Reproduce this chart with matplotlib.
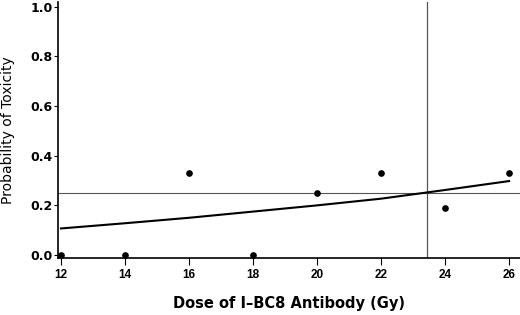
import matplotlib
matplotlib.use("Agg")
import matplotlib.pyplot as plt

# observed toxicity rate per dose level
dose = [12, 14, 16, 18, 20, 22, 24, 26]
tox_rate = [0.0, 0.0, 0.33, 0.0, 0.25, 0.33, 0.19, 0.33]

# fitted dose-toxicity curve
curve_dose = [12, 14, 16, 18, 20, 22, 24, 26]
curve_prob = [0.107, 0.128, 0.150, 0.175, 0.200, 0.227, 0.262, 0.298]

target_tox = 0.25
mtd_dose = 23.42

xticks = [12, 14, 16, 18, 20, 22, 24, 26]
yticks = [0.0, 0.2, 0.4, 0.6, 0.8, 1.0]

plt.rcParams['font.family'] = ['Liberation Sans', 'DejaVu Sans']

fig = plt.figure(figsize=(5.2, 3.15), dpi=100)
ax = fig.add_axes([0.1115, 0.181, 0.8885, 0.813])

ax.axhline(target_tox, color='#555555', lw=0.8, zorder=1)
ax.axvline(mtd_dose, color='#555555', lw=0.9, zorder=1)
ax.plot(curve_dose, curve_prob, color='black', lw=1.5, zorder=2)
ax.plot(dose, tox_rate, 'o', color='black', ms=3.8, zorder=3)

ax.set_xlim(11.906, 26.34)
ax.set_ylim(-0.012, 1.02)
ax.set_xticks(xticks)
ax.set_yticks(yticks)
ax.set_xticklabels([str(x) for x in xticks], fontweight='bold', fontsize=8.5)
ax.set_yticklabels([f"{y:.1f}" for y in yticks], fontweight='bold', fontsize=9,
                   family='DejaVu Sans')
ax.tick_params(axis='x', direction='out', length=5, width=0.8, pad=3)
ax.tick_params(axis='y', direction='out', length=3, width=0.8, pad=1)

for side in ['top', 'right']:
    ax.spines[side].set_visible(False)
for side in ['left', 'bottom']:
    ax.spines[side].set_linewidth(1.2)

ax.set_xlabel("Dose of I\u2013BC8 Antibody (Gy)", fontsize=10.5, fontweight='bold',
              family='DejaVu Sans', labelpad=11)
ax.set_ylabel("Probability of Toxicity", fontsize=10, family='DejaVu Sans', labelpad=11)

fig.savefig("out.png", dpi=100)
